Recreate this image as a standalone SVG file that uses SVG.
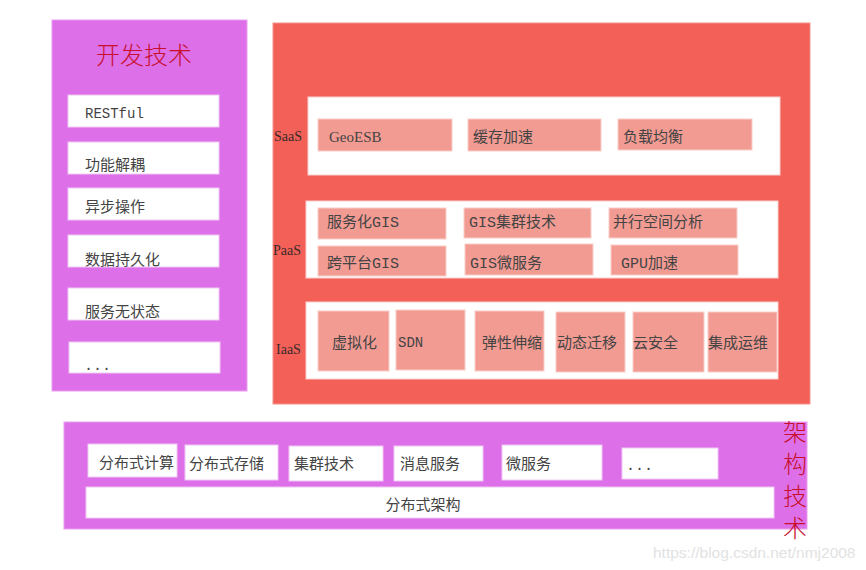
<svg xmlns="http://www.w3.org/2000/svg" width="866" height="570" viewBox="0 0 866 570">
<style>
.purple{fill:#dd6fe8;stroke:#ea9ef0;stroke-width:1}
.red{fill:#f26058;stroke:#f5928c;stroke-width:1}
.wbox{fill:#ffffff;stroke:#f0c8f4;stroke-width:1}
.wpanel{fill:#ffffff;stroke:#f9d0cd;stroke-width:1}
.sbox{fill:#f29b93;stroke:#f9cdc8;stroke-width:1}
.t{font-family:"Liberation Mono","Noto Sans CJK SC",monospace;font-size:15px;fill:#444444}
.lbl{font-family:"Liberation Serif","Noto Sans CJK SC",serif;font-size:14px;fill:#3a2a2a}
.title{font-family:"Noto Sans CJK SC",sans-serif;font-size:24px;font-weight:300;fill:#c8102e}
.wm{font-family:"Liberation Sans",sans-serif;font-size:15px;fill:#e2e2e2}
</style>
<g id="dev">
<rect class="purple" x="52" y="20" width="195" height="371"/>
<text class="title" x="144" y="64" text-anchor="middle">开发技术</text>
<g id="restful"><rect class="wbox" x="68" y="95" width="151" height="32"/><text class="t" x="85" y="118" style="font-size:14px">RESTful</text></g>
<g id="decouple"><rect class="wbox" x="68" y="142" width="151" height="32"/><text class="t" x="85" y="170">功能解耦</text></g>
<g id="async"><rect class="wbox" x="68" y="188" width="151" height="32"/><text class="t" x="85" y="212">异步操作</text></g>
<g id="persist"><rect class="wbox" x="68" y="235" width="151" height="32"/><text class="t" x="85" y="265">数据持久化</text></g>
<g id="stateless"><rect class="wbox" x="68" y="288" width="151" height="32"/><text class="t" x="85" y="317">服务无状态</text></g>
<g id="devmore"><rect class="wbox" x="69" y="342" width="151" height="31"/><text class="t" x="84" y="370">...</text></g>
</g>
<g id="cloud">
<rect class="red" x="273" y="23" width="537" height="381"/>
<g id="saas">
<rect class="wpanel" x="308" y="97" width="472" height="78"/>
<text class="lbl" x="274" y="141">SaaS</text>
<g id="geoesb"><rect class="sbox" x="318" y="119" width="134" height="32"/><text class="t" x="329" y="142" style="font-family:'Liberation Serif',serif">GeoESB</text></g>
<g id="cache"><rect class="sbox" x="468" y="119" width="133" height="32"/><text class="t" x="473" y="142">缓存加速</text></g>
<g id="lb"><rect class="sbox" x="618" y="119" width="134" height="31"/><text class="t" x="623" y="142">负载均衡</text></g>
</g>
<g id="paas">
<rect class="wpanel" x="306" y="201" width="472" height="77"/>
<text class="lbl" x="273" y="255">PaaS</text>
<g id="svcgis"><rect class="sbox" x="318" y="208" width="128" height="31"/><text class="t" x="327" y="227">服务化GIS</text></g>
<g id="gcluster"><rect class="sbox" x="464" y="208" width="127" height="30"/><text class="t" x="469" y="227">GIS集群技术</text></g>
<g id="parallel"><rect class="sbox" x="609" y="208" width="128" height="30"/><text class="t" x="613" y="227">并行空间分析</text></g>
<g id="xplat"><rect class="sbox" x="318" y="246" width="128" height="30"/><text class="t" x="327" y="268">跨平台GIS</text></g>
<g id="gismicro"><rect class="sbox" x="465" y="244" width="128" height="31"/><text class="t" x="470" y="268">GIS微服务</text></g>
<g id="gpu"><rect class="sbox" x="611" y="245" width="127" height="30"/><text class="t" x="621" y="268">GPU加速</text></g>
</g>
<g id="iaas">
<rect class="wpanel" x="306" y="302" width="472" height="77"/>
<text class="lbl" x="276" y="354">IaaS</text>
<g id="virt"><rect class="sbox" x="318" y="311" width="71" height="60"/><text class="t" x="332" y="348">虚拟化</text></g>
<g id="sdn"><rect class="sbox" x="396" y="310" width="69" height="60"/><text class="t" x="398" y="347" style="font-size:14px">SDN</text></g>
<g id="elastic"><rect class="sbox" x="475" y="311" width="69" height="60"/><text class="t" x="482" y="348">弹性伸缩</text></g>
<g id="migrate"><rect class="sbox" x="556" y="312" width="69" height="60"/><text class="t" x="557" y="348">动态迁移</text></g>
<g id="security"><rect class="sbox" x="633" y="312" width="71" height="60"/><text class="t" x="633" y="348">云安全</text></g>
<g id="ops"><rect class="sbox" x="708" y="312" width="69" height="60"/><text class="t" x="708" y="348">集成运维</text></g>
</g>
</g>
<g id="arch">
<rect class="purple" x="64" y="422" width="743" height="107"/>
<g id="dcompute"><rect class="wbox" x="88" y="444" width="89" height="33"/><text class="t" x="99" y="468">分布式计算</text></g>
<g id="dstorage"><rect class="wbox" x="185" y="445" width="93" height="35"/><text class="t" x="189" y="469">分布式存储</text></g>
<g id="cluster"><rect class="wbox" x="289" y="446" width="94" height="35"/><text class="t" x="294" y="469">集群技术</text></g>
<g id="mq"><rect class="wbox" x="394" y="446" width="89" height="35"/><text class="t" x="400" y="469">消息服务</text></g>
<g id="micro"><rect class="wbox" x="502" y="445" width="100" height="35"/><text class="t" x="506" y="469">微服务</text></g>
<g id="archmore"><rect class="wbox" x="622" y="448" width="96" height="31"/><text class="t" x="626" y="470">...</text></g>
<g id="darch"><rect class="wbox" x="86" y="487" width="688" height="31"/><text class="t" x="423" y="510" text-anchor="middle">分布式架构</text></g>
<text class="title" x="795" y="441" text-anchor="middle">架</text>
<text class="title" x="795" y="473" text-anchor="middle">构</text>
<text class="title" x="795" y="505" text-anchor="middle">技</text>
<text class="title" x="795" y="537" text-anchor="middle">术</text>
</g>
<text class="wm" x="653" y="558" style="font-size:15.5px">https://blog.csdn.net/nmj2008</text>
</svg>
